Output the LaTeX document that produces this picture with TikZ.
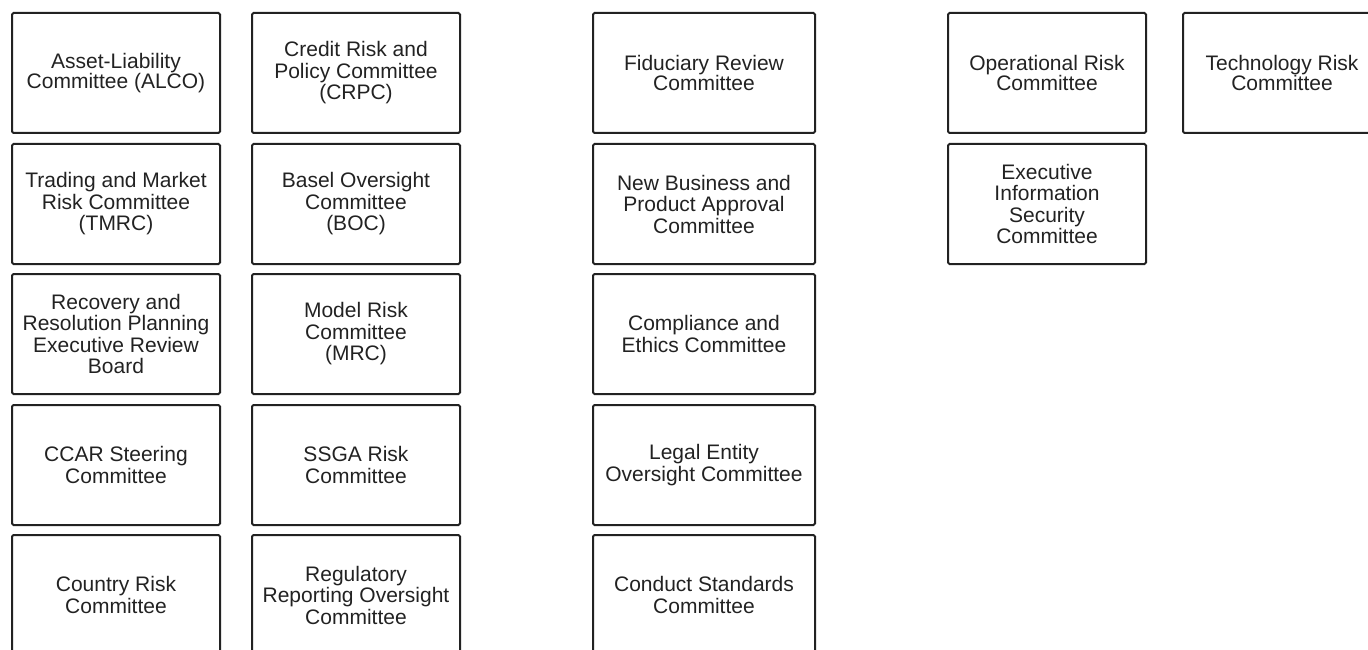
\documentclass[tikz,border=0pt]{standalone}
\usepackage{fontspec}
\setmainfont{Liberation Sans}
\definecolor{ink}{HTML}{222222}
\tikzset{
  cbox/.style={draw=ink, line width=2pt, rounded corners=1.5pt, rectangle, align=center,
    minimum height=120pt, inner sep=0pt, text=ink, font=\fontsize{21}{21.5}\selectfont},
  wA/.style={minimum width=208pt},
  wB/.style={minimum width=222pt},
  wC/.style={minimum width=198pt},
  tight/.style={font=\fontsize{21}{17.5}\selectfont},
}
\begin{document}
\begin{tikzpicture}[x=1pt,y=-1pt]
\useasboundingbox (0,0) rectangle (1368,650);
\clip (0,0) rectangle (1368,650);
% column 1
\node[cbox,wA,tight] (alco) at (116,73) {Asset-Liability\\Committee (ALCO)};
\node[cbox,wA] (tmrc) at (116,204) {Trading and Market\\Risk Committee\\(TMRC)};
\node[cbox,wA] (rrp) at (116,334) {Recovery and\\Resolution Planning\\Executive Review\\Board};
\node[cbox,wA] (ccar) at (116,465) {CCAR Steering\\Committee};
\node[cbox,wA] (crc) at (116,595) {Country Risk\\Committee};
% column 2
\node[cbox,wA] (crpc) at (356,73) {Credit Risk and\\Policy Committee\\(CRPC)};
\node[cbox,wA] (boc) at (356,204) {Basel Oversight\\Committee\\(BOC)};
\node[cbox,wA] (mrc) at (356,334) {Model Risk\\Committee\\(MRC)};
\node[cbox,wA] (ssga) at (356,465) {SSGA Risk\\Committee};
\node[cbox,wA] (rroc) at (356,595) {Regulatory\\Reporting Oversight\\Committee};
% column 3
\node[cbox,wB,tight] (frc) at (704,73) {Fiduciary Review\\Committee};
\node[cbox,wB] (nbpa) at (704,204) {New Business and\\Product Approval\\Committee};
\node[cbox,wB] (cec) at (704,334) {Compliance and\\Ethics Committee};
\node[cbox,wB] (leoc) at (704,465) {Legal Entity\\Oversight Committee};
\node[cbox,wB] (csc) at (704,595) {Conduct Standards\\Committee};
% column 4
\node[cbox,wC,tight] (orc) at (1047,73) {Operational Risk\\Committee};
\node[cbox,wC] (eisc) at (1047,204) {Executive\\Information\\Security\\Committee};
% column 5
\node[cbox,wC,tight] (trc) at (1282,73) {Technology Risk\\Committee};
\end{tikzpicture}
\end{document}
